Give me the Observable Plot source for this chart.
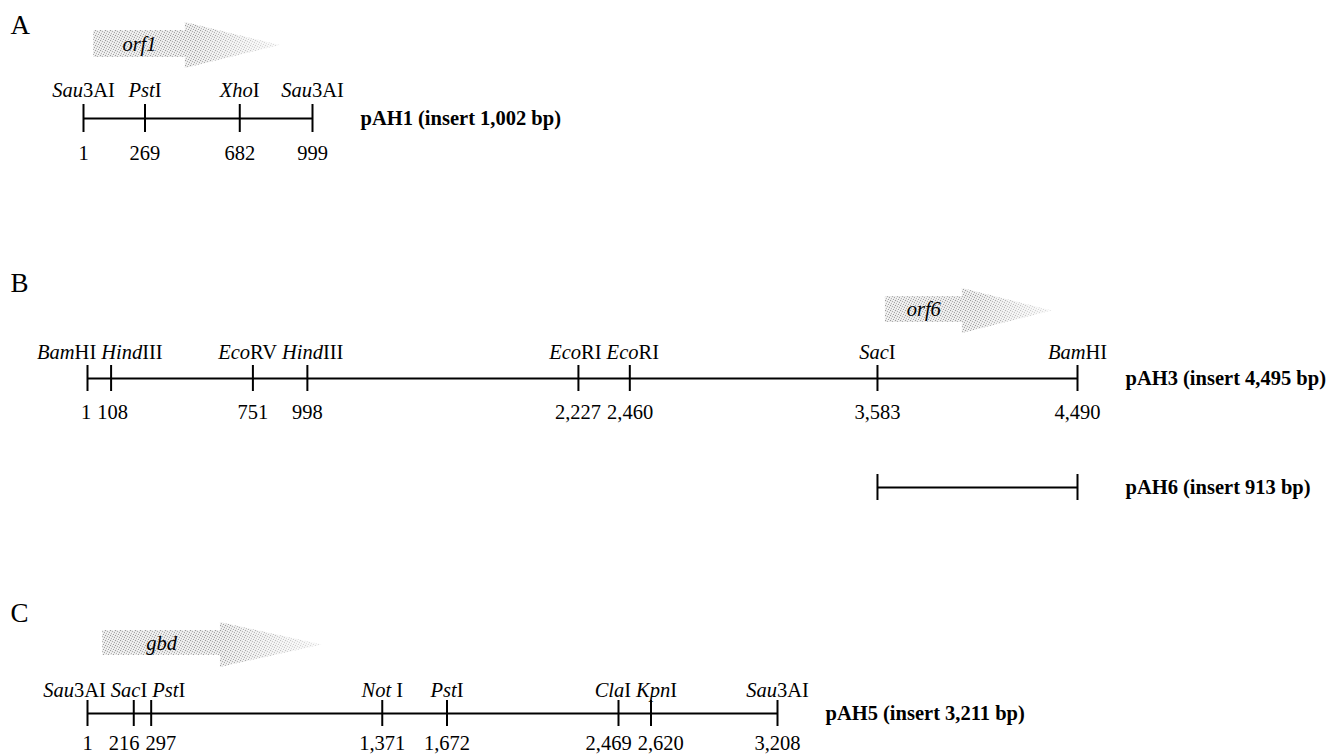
<!DOCTYPE html>
<html>
<head>
<meta charset="utf-8">
<script src="https://cdn.jsdelivr.net/npm/d3@7"></script>
<script src="https://cdn.jsdelivr.net/npm/@observablehq/plot@0.6"></script>
<style>
html, body { margin: 0; padding: 0; background: #fff; }
#fig { width: 1330px; height: 756px; overflow: hidden; background: #fff; }
#fig svg { display: block; }
#fig svg text { white-space: pre; }
</style>
</head>
<body>
<div id="fig"></div>
<script>
// ---------------- data ----------------
const panelLetters = ["A", "B", "C"];
const cloneNames = ["pAH1 (insert 1,002 bp)", "pAH3 (insert 4,495 bp)", "pAH6 (insert 913 bp)", "pAH5 (insert 3,211 bp)"];

const pAH1Enzymes = ["Sau3AI", "PstI", "XhoI", "Sau3AI"];
const pAH1Sites = [1, 269, 682, 999];

const pAH3Enzymes = ["BamHI", "HindIII", "EcoRV", "HindIII", "EcoRI", "EcoRI", "SacI", "BamHI"];
const pAH3Sites = [1, 108, 751, 998, 2227, 2460, 3583, 4490];

const pAH6Span = [3583, 4490];

const pAH5Enzymes = ["Sau3AI", "SacI", "PstI", "Not I", "PstI", "ClaI", "KpnI", "Sau3AI"];
const pAH5Sites = [1, 216, 297, 1371, 1672, 2469, 2620, 3208];

const orfNames = ["orf1", "orf6", "gbd"];
const orfStart = [45, 3618, 71];
const orfHeadStart = [445, 3968, 619];
const orfEnd = [860, 4376, 1093];

// italic (genus) part of each enzyme name; the rest is roman
const enzymeItalic = {
  "Sau3AI": "Sau", "PstI": "Pst", "XhoI": "Xho", "BamHI": "Bam", "HindIII": "Hind",
  "EcoRV": "Eco", "EcoRI": "Eco", "SacI": "Sac", "Not I": "Not", "ClaI": "Cla", "KpnI": "Kpn"
};

// ---------------- layout ----------------
const FONT = "'Liberation Serif', 'Times New Roman', serif";
const FS = 20.5;
const fmt = d3.format(",");

const panels = [
  { letter: 0, height: 240, xRange: [83, 312], letterY: 25,
    orf: 0, orfY: [22, 30, 57, 68],
    maps: [{ enzymes: pAH1Enzymes, sites: pAH1Sites, clone: 0, lineY: 118, labelY: 90, numY: 153, tick: 14 }] },
  { letter: 1, height: 320, xRange: [87, 1077], letterY: 43,
    orf: 1, orfY: [48, 56, 82, 93],
    maps: [{ enzymes: pAH3Enzymes, sites: pAH3Sites, clone: 1, lineY: 138, labelY: 112, numY: 172, tick: 13 },
           { enzymes: null, sites: pAH6Span, clone: 2, lineY: 247, tick: 13 }] },
  { letter: 2, height: 196, xRange: [87, 777], letterY: 53,
    orf: 2, orfY: [62, 70, 95, 107],
    maps: [{ enzymes: pAH5Enzymes, sites: pAH5Sites, clone: 3, lineY: 153, labelY: 130, numY: 183, tick: 13 }] }
];

const ctx = document.createElement("canvas").getContext("2d");
function measure(str, italic, bold) {
  ctx.font = `${italic ? "italic " : ""}${bold ? "bold " : ""}${FS}px ${FONT}`;
  return ctx.measureText(str).width;
}
function enzWidth(name) {
  const it = enzymeItalic[name] || "";
  return measure(it, true) + measure(name.slice(it.length), false);
}
// push overlapping labels apart (pixel space)
function dodge(centers, widths, gap) {
  const c = centers.slice();
  const order = d3.range(c.length).sort((a, b) => c[a] - c[b]);
  for (let it = 0; it < 500; it++) {
    let moved = false;
    for (let k = 1; k < order.length; k++) {
      const i = order[k - 1], j = order[k];
      const ov = (c[i] + widths[i] / 2 + gap) - (c[j] - widths[j] / 2);
      if (ov > 0.01) { c[i] -= ov / 2; c[j] += ov / 2; moved = true; }
    }
    if (!moved) break;
  }
  return c;
}

const fig = document.getElementById("fig");

panels.forEach((cfg, p) => {
  const main = cfg.maps[0];
  const domain = [d3.min(main.sites), d3.max(main.sites)];
  const xScale = Plot.scale({ x: { type: "linear", domain, range: cfg.xRange } });
  const marks = [];

  // panel letter
  marks.push(Plot.text([panelLetters[cfg.letter]], {
    frameAnchor: "left", y: cfg.letterY, dx: 10, text: d => d, textAnchor: "start", fontSize: 27, fill: "#000"
  }));

  // ORF arrow
  const o = cfg.orf;
  const [hTop, bTop, bBot, hBot] = cfg.orfY;
  const mid = (hTop + hBot) / 2;
  const arrow = [
    { x: orfStart[o], y1: bTop, y2: bBot },
    { x: orfHeadStart[o], y1: bTop, y2: bBot },
    { x: orfHeadStart[o], y1: hTop, y2: hBot },
    { x: orfEnd[o], y1: mid, y2: mid }
  ];
  marks.push(Plot.areaY(arrow, { x: "x", y1: "y1", y2: "y2", fill: `url(#stip${p})`, curve: "linear" }));
  marks.push(Plot.text([{ x: (orfStart[o] + orfHeadStart[o]) / 2, name: orfNames[o] }], {
    x: "x", y: (bTop + bBot) / 2, text: "name", fontStyle: "italic", fontSize: FS, fill: "#000"
  }));

  cfg.maps.forEach(m => {
    const rows = m.sites.map((pos, i) => ({ pos, enzyme: m.enzymes ? m.enzymes[i] : null }));
    const ext = [{ x1: d3.min(m.sites), x2: d3.max(m.sites) }];
    marks.push(Plot.ruleY(ext, { x1: "x1", x2: "x2", y: m.lineY, stroke: "#000", strokeWidth: 2 }));
    marks.push(Plot.ruleX(rows, { x: "pos", y1: m.lineY - m.tick, y2: m.lineY + m.tick, stroke: "#000", strokeWidth: 2 }));
    if (m.enzymes) {
      const px = rows.map(r => xScale.apply(r.pos));
      const lc = dodge(px, rows.map(r => enzWidth(r.enzyme)), 5);
      const nc = dodge(px, rows.map(r => measure(fmt(r.pos))), 6);
      rows.forEach((r, i) => { r.labelPos = xScale.invert(lc[i]); r.numPos = xScale.invert(nc[i]); });
      marks.push(Plot.text(rows, { x: "labelPos", y: m.labelY, text: "enzyme", fontSize: FS, fill: "#000" }));
      marks.push(Plot.text(rows, { x: "numPos", y: m.numY, text: r => fmt(r.pos), fontSize: FS, fill: "#000" }));
    }
    marks.push(Plot.text([{ x: d3.max(m.sites), name: cloneNames[m.clone] }], {
      x: "x", y: m.lineY, text: "name", dx: 48, textAnchor: "start", fontWeight: "bold", fontSize: FS, fill: "#000"
    }));
  });

  const svg = Plot.plot({
    width: 1330, height: cfg.height, margin: 0,
    x: { type: "linear", domain, range: cfg.xRange, axis: null },
    y: { type: "linear", domain: [0, cfg.height], range: [0, cfg.height], axis: null },
    style: { fontFamily: FONT, fontSize: `${FS}px`, background: "#fff", color: "#000", overflow: "visible" },
    marks
  });

  // stipple pattern + fade mask for the ORF arrow
  const s = d3.select(svg);
  const defs = s.insert("defs", ":first-child");
  const pat = defs.append("pattern").attr("id", `stip${p}`).attr("patternUnits", "userSpaceOnUse")
    .attr("width", 5).attr("height", 5);
  pat.append("rect").attr("width", 5).attr("height", 5).attr("fill", "#e9e9e9");
  [[0, 0, "#9a9a9a"], [2, 1, "#b0b0b0"], [4, 2, "#a4a4a4"], [1, 3, "#b8b8b8"], [3, 4, "#a0a0a0"],
   [3, 0, "#fafafa"], [0, 2, "#f6f6f6"], [2, 3, "#fbfbfb"], [4, 4, "#f4f4f4"]].forEach(([x, y, c]) =>
    pat.append("rect").attr("x", x).attr("y", y).attr("width", 1).attr("height", 1).attr("fill", c));
  const grad = defs.append("linearGradient").attr("id", `fadeg${p}`);
  grad.append("stop").attr("offset", 0).attr("stop-color", "#fff");
  grad.append("stop").attr("offset", 0.55).attr("stop-color", "#fff");
  grad.append("stop").attr("offset", 1).attr("stop-color", "#555");
  const mask = defs.append("mask").attr("id", `fade${p}`).attr("maskContentUnits", "objectBoundingBox");
  mask.append("rect").attr("width", 1).attr("height", 1).attr("fill", `url(#fadeg${p})`);
  s.selectAll('g[aria-label="area"] path').attr("mask", `url(#fade${p})`);

  // italic genus part in enzyme names
  s.selectAll("text").each(function () {
    const t = this.textContent;
    if (Object.prototype.hasOwnProperty.call(enzymeItalic, t)) {
      const it = enzymeItalic[t];
      const el = d3.select(this);
      el.text(null);
      el.append("tspan").attr("font-style", "italic").text(it);
      el.append("tspan").text(t.slice(it.length));
    }
  });

  fig.appendChild(svg);
});
</script>
</body>
</html>
